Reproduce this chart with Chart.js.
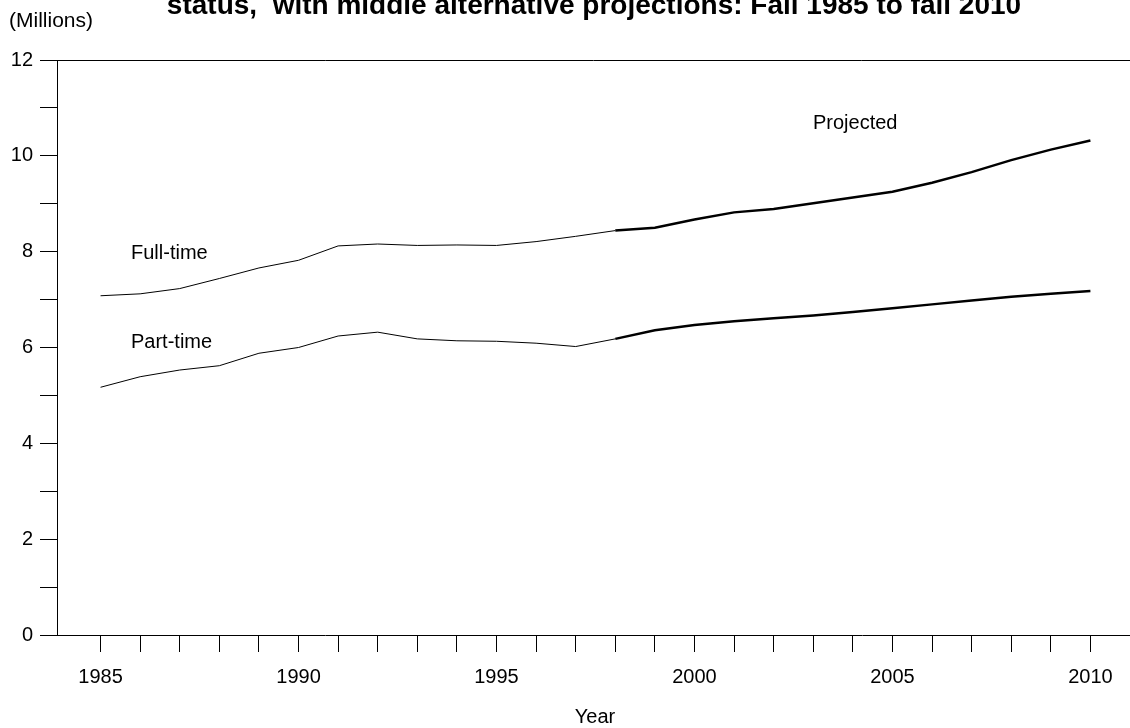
<!DOCTYPE html>
<html>
<head>
<meta charset="utf-8">
<script src="https://cdn.jsdelivr.net/npm/chart.js@4.4.0/dist/chart.umd.min.js"></script>
<style>
  html, body { margin: 0; padding: 0; background: #fff; }
  #wrap { width: 1130px; height: 728px; position: relative; }
</style>
</head>
<body>
<div id="wrap"><canvas id="enrollChart"></canvas></div>
<script>
// Years and enrollment (millions)
const actualYears = [1985, 1986, 1987, 1988, 1989, 1990, 1991, 1992, 1993, 1994, 1995, 1996, 1997, 1998];
const projYears = [1998, 1999, 2000, 2001, 2002, 2003, 2004, 2005, 2006, 2007, 2008, 2009, 2010];
const fullTimeActual = [7.08, 7.12, 7.23, 7.44, 7.66, 7.82, 8.12, 8.16, 8.13, 8.14, 8.13, 8.21, 8.32, 8.44];
const fullTimeProj = [8.44, 8.50, 8.67, 8.82, 8.89, 9.01, 9.13, 9.25, 9.44, 9.66, 9.91, 10.13, 10.32];
const partTimeActual = [5.17, 5.39, 5.53, 5.62, 5.88, 6.00, 6.24, 6.32, 6.18, 6.14, 6.13, 6.09, 6.02, 6.18];
const partTimeProj = [6.18, 6.36, 6.47, 6.55, 6.61, 6.67, 6.74, 6.82, 6.90, 6.98, 7.06, 7.12, 7.18];
const yTicks = [0, 2, 4, 6, 8, 10, 12];
const xLabelYears = [1985, 1990, 1995, 2000, 2005, 2010];
const firstYear = 1985;
const lastYear = 2010;

const FONT = "'Liberation Sans', Arial, sans-serif";

function toPoints(xs, ys) {
    return xs.map((x, i) => ({ x: x, y: ys[i] }));
}

function lineSet(label, xs, ys, width) {
    return {
        label: label,
        data: toPoints(xs, ys),
        borderColor: "#000",
        borderWidth: width,
        pointRadius: 0,
        tension: 0,
        fill: false
    };
}

// Text labels and the top rule
const annotations = {
    id: "annotations",
    afterDraw(chart) {
        const ctx = chart.ctx;
        const area = chart.chartArea;
        const ys = chart.scales.y;
        ctx.save();
        ctx.strokeStyle = "#000";
        ctx.lineWidth = 1;
        const top = Math.round(ys.getPixelForValue(12)) + 0.5;
        ctx.beginPath();
        ctx.moveTo(area.left, top);
        ctx.lineTo(chart.width, top);
        ctx.stroke();

        ctx.fillStyle = "#000";
        ctx.textBaseline = "alphabetic";
        ctx.font = "bold 28px " + FONT;
        ctx.textAlign = "center";
        ctx.fillText("status,  with middle alternative projections: Fall 1985 to fall 2010", 594, 13.5);

        ctx.textAlign = "left";
        ctx.font = "21px " + FONT;
        ctx.fillText("(Millions)", 9, 26.5);

        ctx.font = "20px " + FONT;
        ctx.fillText("Full-time", 131, 258.5);
        ctx.fillText("Part-time", 131, 348);
        ctx.fillText("Projected", 813, 128.5);
        ctx.textAlign = "center";
        ctx.fillText("Year", 595, 723);
        ctx.restore();
    }
};

new Chart(document.getElementById("enrollChart").getContext("2d"), {
    type: "line",
    data: {
        datasets: [
            lineSet("Full-time", actualYears, fullTimeActual, 1),
            lineSet("Full-time projected", projYears, fullTimeProj, 2.5),
            lineSet("Part-time", actualYears, partTimeActual, 1),
            lineSet("Part-time projected", projYears, partTimeProj, 2.5)
        ]
    },
    options: {
        responsive: true,
        maintainAspectRatio: false,
        animation: false,
        layout: { padding: { top: 60, right: 0, left: 0, bottom: 0 } },
        plugins: {
            legend: { display: false },
            tooltip: { enabled: false }
        },
        scales: {
            x: {
                type: "linear",
                min: 1983.9,
                max: 2011,
                afterFit: scale => { scale.height = 93; },
                afterBuildTicks: scale => {
                    scale.ticks = scale.ticks.filter(t => t.value >= firstYear && t.value <= lastYear);
                },
                border: { display: true, color: "#000", width: 1 },
                grid: { drawOnChartArea: false, drawTicks: true, tickLength: 17, color: "#000" },
                ticks: {
                    stepSize: 1,
                    autoSkip: false,
                    maxRotation: 0,
                    padding: 13,
                    color: "#000",
                    font: { family: FONT, size: 20 },
                    callback: v => xLabelYears.includes(v) ? String(v) : ""
                }
            },
            y: {
                min: 0,
                max: 12,
                afterFit: scale => { scale.width = 57; },
                border: { display: true, color: "#000", width: 1 },
                grid: { drawOnChartArea: false, drawTicks: true, tickLength: 17, color: "#000" },
                ticks: {
                    stepSize: 1,
                    autoSkip: false,
                    padding: 7,
                    color: "#000",
                    font: { family: FONT, size: 20 },
                    callback: v => yTicks.includes(v) ? String(v) : ""
                }
            }
        }
    },
    plugins: [annotations]
});
</script>
</body>
</html>
